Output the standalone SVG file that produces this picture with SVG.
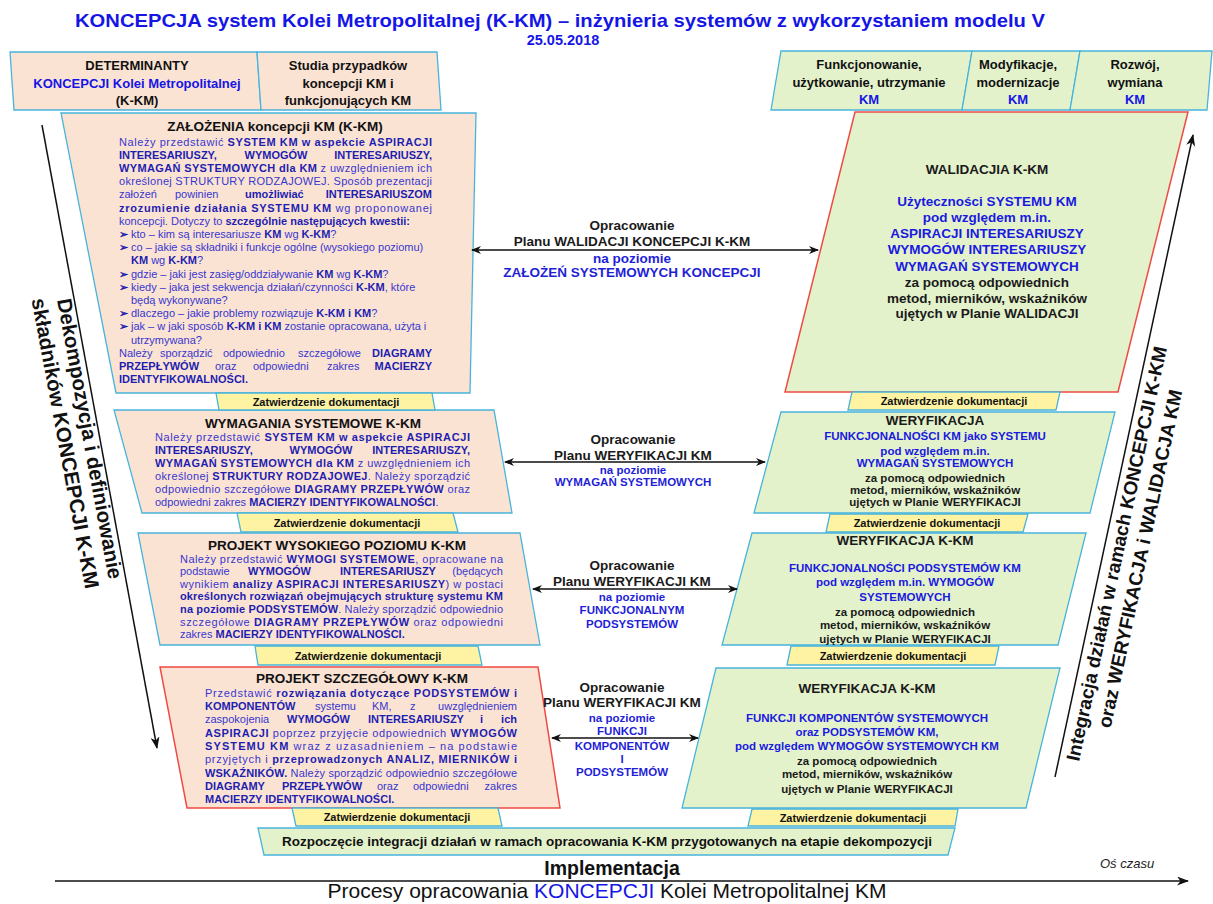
<svg xmlns="http://www.w3.org/2000/svg" width="1213" height="904" viewBox="0 0 1213 904">
<defs>
<style>
text{font-family:"Liberation Sans",Arial,sans-serif}
.bx{stroke:#47b4dc;stroke-width:1.3}
.red{stroke:#ef4a44;stroke-width:1.5}
.pe{fill:#fbe3d4}
.gr{fill:#e4f2cc}
.ye{fill:#fdf3a3}
.hd{font-size:13px;font-weight:bold;fill:#111;text-anchor:middle}
.hd.hb{fill:#1515e6}
.tt{font-size:13.5px;font-weight:bold;fill:#111;text-anchor:middle}
.bd{font-size:11px;fill:#3737cf}
.k{font-weight:bold;fill:#1e1eb0}
.rb{font-size:13.5px;font-weight:bold;text-anchor:middle;fill:#1a1a1a}
.rs{font-size:11.5px;font-weight:bold;text-anchor:middle;fill:#1a1a1a}
.rb.bl,.rs.bl{fill:#1a1ae0}
.zt{font-size:11px;font-weight:bold;fill:#111;text-anchor:middle}
.lb{font-size:13.5px;font-weight:bold;fill:#1a1a1a;text-anchor:middle}
.lb.bl{fill:#1f1fd8}
.ls{font-size:11.5px;font-weight:bold;fill:#1f1fd8;text-anchor:middle}
.ln{stroke:#111;stroke-width:1.5;fill:none}
.mid{text-anchor:middle}
.end{text-anchor:end}
</style>
<marker id="ah" viewBox="0 0 10 8" refX="9" refY="4" markerWidth="10" markerHeight="8" markerUnits="userSpaceOnUse" orient="auto-start-reverse"><path d="M0,0 L10,4 L0,8 L3,4 z" fill="#111"/></marker>
<marker id="ahL" viewBox="0 0 12 9" refX="11" refY="4.5" markerWidth="12" markerHeight="9" markerUnits="userSpaceOnUse" orient="auto"><path d="M0,0 L12,4.5 L0,9 L3.5,4.5 z" fill="#111"/></marker>
</defs>
<rect width="1213" height="904" fill="#fff"/>

<g id="title">
<text x="560" y="27" text-anchor="middle" font-size="19" font-weight="bold" fill="#1515e6" textLength="970" lengthAdjust="spacingAndGlyphs">KONCEPCJA system Kolei Metropolitalnej (K-KM) – inżynieria systemów z wykorzystaniem modelu V</text>
<text x="563" y="45" text-anchor="middle" font-size="14.5" font-weight="bold" fill="#1515e6">25.05.2018</text>
</g>

<g id="header-left">
<polygon class="bx pe" points="10,52 257,52 261,110 14,110"/>
<polygon class="bx pe" points="257,52 437,52 441,110 261,110"/>
<text class="hd" x="137" y="70">DETERMINANTY</text>
<text class="hd hb" x="137" y="88">KONCEPCJI Kolei Metropolitalnej</text>
<text class="hd" x="137" y="105">(K-KM)</text>
<text class="hd" x="348" y="70">Studia przypadków</text>
<text class="hd" x="348" y="88">koncepcji KM i</text>
<text class="hd" x="348" y="105">funkcjonujących KM</text>
</g>

<g id="header-right">
<polygon class="bx gr" points="781,51 972,51 962,110 771,110"/>
<polygon class="bx gr" points="972,51 1080,51 1070,110 962,110"/>
<polygon class="bx gr" points="1080,51 1212,51 1207,110 1070,110"/>
<text class="hd" x="869" y="69">Funkcjonowanie,</text>
<text class="hd" x="869" y="87">użytkowanie, utrzymanie</text>
<text class="hd hb" x="869" y="104">KM</text>
<text class="hd" x="1018" y="69">Modyfikacje,</text>
<text class="hd" x="1018" y="87">modernizacje</text>
<text class="hd hb" x="1018" y="104">KM</text>
<text class="hd" x="1135" y="69">Rozwój,</text>
<text class="hd" x="1135" y="87">wymiana</text>
<text class="hd hb" x="1135" y="104">KM</text>
</g>

<g id="zalozenia">
<polygon class="bx pe" points="61,113 476,113 470,393 116,393"/>
<text class="tt" x="275" y="131">ZAŁOŻENIA koncepcji KM (K-KM)</text>
<text class="bd" x="119" y="145.5" textLength="313" lengthAdjust="spacing">Należy przedstawić <tspan class="k">SYSTEM KM w aspekcie ASPIRACJI</tspan></text>
<text class="bd k" x="119" y="158.7">INTERESARIUSZY,</text>
<text class="bd k mid" x="276" y="158.7">WYMOGÓW</text>
<text class="bd k end" x="432" y="158.7">INTERESARIUSZY,</text>
<text class="bd" x="119" y="171.9" textLength="313" lengthAdjust="spacing"><tspan class="k">WYMAGAŃ SYSTEMOWYCH dla KM</tspan> z uwzględnieniem ich</text>
<text class="bd" x="119" y="185.1" textLength="313" lengthAdjust="spacing">określonej STRUKTURY RODZAJOWEJ. Sposób prezentacji</text>
<text class="bd" x="119" y="198.3">założeń</text>
<text class="bd" x="175" y="198.3">powinien</text>
<text class="bd k" x="245" y="198.3">umożliwiać</text>
<text class="bd k end" x="432" y="198.3">INTERESARIUSZOM</text>
<text class="bd" x="119" y="211.5" textLength="313" lengthAdjust="spacing"><tspan class="k">zrozumienie działania SYSTEMU KM</tspan> wg proponowanej</text>
<text class="bd" x="119" y="224.7">koncepcji. Dotyczy to <tspan class="k">szczególnie następujących kwestii:</tspan></text>
<text class="bd k" x="119" y="237.9" font-family="DejaVu Sans" font-size="9">➢</text>
<text class="bd" x="131" y="237.9">kto – kim są interesariusze <tspan class="k">KM</tspan> wg <tspan class="k">K-KM</tspan>?</text>
<text class="bd k" x="119" y="251.1" font-family="DejaVu Sans" font-size="9">➢</text>
<text class="bd" x="131" y="251.1">co – jakie są składniki i funkcje ogólne (wysokiego poziomu)</text>
<text class="bd" x="131" y="264.3"><tspan class="k">KM</tspan> wg <tspan class="k">K-KM</tspan>?</text>
<text class="bd k" x="119" y="277.5" font-family="DejaVu Sans" font-size="9">➢</text>
<text class="bd" x="131" y="277.5">gdzie – jaki jest zasięg/oddziaływanie <tspan class="k">KM</tspan> wg <tspan class="k">K-KM</tspan>?</text>
<text class="bd k" x="119" y="290.7" font-family="DejaVu Sans" font-size="9">➢</text>
<text class="bd" x="131" y="290.7">kiedy – jaka jest sekwencja działań/czynności <tspan class="k">K-KM</tspan>, które</text>
<text class="bd" x="131" y="303.9">będą wykonywane?</text>
<text class="bd k" x="119" y="317.1" font-family="DejaVu Sans" font-size="9">➢</text>
<text class="bd" x="131" y="317.1">dlaczego – jakie problemy rozwiązuje <tspan class="k">K-KM i KM</tspan>?</text>
<text class="bd k" x="119" y="330.3" font-family="DejaVu Sans" font-size="9">➢</text>
<text class="bd" x="131" y="330.3">jak – w jaki sposób <tspan class="k">K-KM i KM</tspan> zostanie opracowana, użyta i</text>
<text class="bd" x="131" y="343.5">utrzymywana?</text>
<text class="bd" x="119" y="356.7">Należy</text>
<text class="bd" x="160" y="356.7">sporządzić</text>
<text class="bd" x="223" y="356.7">odpowiednio</text>
<text class="bd" x="298" y="356.7">szczegółowe</text>
<text class="bd k end" x="432" y="356.7">DIAGRAMY</text>
<text class="bd k" x="119" y="369.9">PRZEPŁYWÓW</text>
<text class="bd" x="215" y="369.9">oraz</text>
<text class="bd" x="253" y="369.9">odpowiedni</text>
<text class="bd" x="327" y="369.9">zakres</text>
<text class="bd k end" x="432" y="369.9">MACIERZY</text>
<text class="bd k" x="119" y="383.1">IDENTYFIKOWALNOŚCI.</text>
</g>

<g id="wymagania">
<polygon class="bx pe" points="114,410 494,410 512,513 142,513"/>
<text class="tt" x="313" y="428">WYMAGANIA SYSTEMOWE K-KM</text>
<text class="bd" x="155" y="441" textLength="315" lengthAdjust="spacing">Należy przedstawić <tspan class="k">SYSTEM KM w aspekcie ASPIRACJI</tspan></text>
<text class="bd k" x="155" y="453.5">INTERESARIUSZY,</text>
<text class="bd k mid" x="321" y="453.5">WYMOGÓW</text>
<text class="bd k end" x="470" y="453.5">INTERESARIUSZY,</text>
<text class="bd" x="155" y="466.5" textLength="315" lengthAdjust="spacing"><tspan class="k">WYMAGAŃ SYSTEMOWYCH dla KM</tspan> z uwzględnieniem ich</text>
<text class="bd" x="155" y="480" textLength="315" lengthAdjust="spacing">określonej <tspan class="k">STRUKTURY RODZAJOWEJ</tspan>. Należy sporządzić</text>
<text class="bd" x="155" y="493.3" textLength="315" lengthAdjust="spacing">odpowiednio szczegółowe <tspan class="k">DIAGRAMY PRZEPŁYWÓW</tspan> oraz</text>
<text class="bd" x="155" y="505.7">odpowiedni zakres <tspan class="k">MACIERZY IDENTYFIKOWALNOŚCI</tspan>.</text>
</g>

<g id="projekt-wysokiego">
<polygon class="bx pe" points="138,533 520,533 540,645 160,645"/>
<text class="tt" x="337" y="550">PROJEKT WYSOKIEGO POZIOMU K-KM</text>
<text class="bd" x="180" y="562.5" textLength="323" lengthAdjust="spacing">Należy przedstawić <tspan class="k">WYMOGI SYSTEMOWE</tspan>, opracowane na</text>
<text class="bd" x="180" y="575">podstawie</text>
<text class="bd k" x="248" y="575">WYMOGÓW</text>
<text class="bd k" x="340" y="575">INTERESARIUSZY</text>
<text class="bd end" x="503" y="575">(będących</text>
<text class="bd" x="180" y="587.5" textLength="323" lengthAdjust="spacing">wynikiem <tspan class="k">analizy ASPIRACJI INTERESARIUSZY</tspan>) w postaci</text>
<text class="bd k" x="180" y="600" textLength="323" lengthAdjust="spacing">określonych rozwiązań obejmujących strukturę systemu KM</text>
<text class="bd" x="180" y="612.5" textLength="323" lengthAdjust="spacing"><tspan class="k">na poziomie PODSYSTEMÓW</tspan>. Należy sporządzić odpowiednio</text>
<text class="bd" x="180" y="625.5" textLength="323" lengthAdjust="spacing">szczegółowe <tspan class="k">DIAGRAMY PRZEPŁYWÓW</tspan> oraz odpowiedni</text>
<text class="bd" x="180" y="638">zakres <tspan class="k">MACIERZY IDENTYFIKOWALNOŚCI.</tspan></text>
</g>

<g id="projekt-szczegolowy">
<polygon class="red pe" points="160,667 538,667 560,808 187,808"/>
<text class="tt" x="362" y="682.5">PROJEKT SZCZEGÓŁOWY K-KM</text>
<text class="bd" x="205" y="696.5" textLength="312" lengthAdjust="spacing">Przedstawić <tspan class="k">rozwiązania dotyczące PODSYSTEMÓW i</tspan></text>
<text class="bd k" x="205" y="710">KOMPONENTÓW</text>
<text class="bd" x="315" y="710">systemu</text>
<text class="bd" x="372" y="710">KM,</text>
<text class="bd" x="410" y="710">z</text>
<text class="bd end" x="517" y="710">uwzględnieniem</text>
<text class="bd" x="205" y="723">zaspokojenia</text>
<text class="bd k" x="287" y="723">WYMOGÓW</text>
<text class="bd k" x="368" y="723">INTERESARIUSZY</text>
<text class="bd k" x="480" y="723">i</text>
<text class="bd k end" x="517" y="723">ich</text>
<text class="bd" x="205" y="736.5" textLength="312" lengthAdjust="spacing"><tspan class="k">ASPIRACJI</tspan> poprzez przyjęcie odpowiednich <tspan class="k">WYMOGÓW</tspan></text>
<text class="bd" x="205" y="749.5" textLength="312" lengthAdjust="spacing"><tspan class="k">SYSTEMU KM</tspan> wraz z uzasadnieniem – na podstawie</text>
<text class="bd" x="205" y="763" textLength="312" lengthAdjust="spacing">przyjętych i <tspan class="k">przeprowadzonych ANALIZ, MIERNIKÓW i</tspan></text>
<text class="bd" x="205" y="776.5" textLength="312" lengthAdjust="spacing"><tspan class="k">WSKAŹNIKÓW.</tspan> Należy sporządzić odpowiednio szczegółowe</text>
<text class="bd k" x="205" y="789.5">DIAGRAMY</text>
<text class="bd k" x="282" y="789.5">PRZEPŁYWÓW</text>
<text class="bd" x="377" y="789.5">oraz</text>
<text class="bd" x="413" y="789.5">odpowiedni</text>
<text class="bd end" x="517" y="789.5">zakres</text>
<text class="bd k" x="205" y="803">MACIERZY IDENTYFIKOWALNOŚCI.</text>
</g>

<g id="walidacja">
<polygon class="red gr" points="855,112 1188,112 1118,392 785,392"/>
<text class="rb" x="987" y="174">WALIDACJIA K-KM</text>
<text class="rb bl" x="987" y="206">Użyteczności SYSTEMU KM</text>
<text class="rb bl" x="987" y="222">pod względem m.in.</text>
<text class="rb bl" x="987" y="238">ASPIRACJI INTERESARIUSZY</text>
<text class="rb bl" x="987" y="254">WYMOGÓW INTERESARIUSZY</text>
<text class="rb bl" x="987" y="271">WYMAGAŃ SYSTEMOWYCH</text>
<text class="rb" x="987" y="287">za pomocą odpowiednich</text>
<text class="rb" x="987" y="303">metod, mierników, wskaźników</text>
<text class="rb" x="987" y="318">ujętych w Planie WALIDACJI</text>
</g>

<g id="weryfikacja-1">
<polygon class="bx gr" points="781,412 1115,412 1090,513 754,513"/>
<text class="rb" x="935" y="425">WERYFIKACJA</text>
<text class="rs bl" x="935" y="440">FUNKCJONALNOŚCI KM jako SYSTEMU</text>
<text class="rs bl" x="935" y="455">pod względem m.in.</text>
<text class="rs bl" x="935" y="467">WYMAGAŃ SYSTEMOWYCH</text>
<text class="rs" x="935" y="482">za pomocą odpowiednich</text>
<text class="rs" x="935" y="494">metod, mierników, wskaźników</text>
<text class="rs" x="935" y="506">ujętych w Planie WERYFIKACJI</text>
</g>

<g id="weryfikacja-2">
<polygon class="bx gr" points="752,533 1086,533 1058,645 722,645"/>
<text class="rb" x="905" y="545">WERYFIKACJA K-KM</text>
<text class="rs bl" x="905" y="572">FUNKCJONALNOŚCI PODSYSTEMÓW KM</text>
<text class="rs bl" x="905" y="586">pod względem m.in. WYMOGÓW</text>
<text class="rs bl" x="905" y="601">SYSTEMOWYCH</text>
<text class="rs" x="905" y="616">za pomocą odpowiednich</text>
<text class="rs" x="905" y="629">metod, mierników, wskaźników</text>
<text class="rs" x="905" y="643">ujętych w Planie WERYFIKACJI</text>
</g>

<g id="weryfikacja-3">
<polygon class="bx gr" points="716,668 1060,668 1026,808 682,808"/>
<text class="rb" x="867" y="693">WERYFIKACJA K-KM</text>
<text class="rs bl" x="867" y="722">FUNKCJI KOMPONENTÓW SYSTEMOWYCH</text>
<text class="rs bl" x="867" y="736">oraz PODSYSTEMÓW KM,</text>
<text class="rs bl" x="867" y="750">pod względem WYMOGÓW SYSTEMOWYCH KM</text>
<text class="rs" x="867" y="765">za pomocą odpowiednich</text>
<text class="rs" x="867" y="778">metod, mierników, wskaźników</text>
<text class="rs" x="867" y="793">ujętych w Planie WERYFIKACJI</text>
</g>

<g id="zatwierdzenie">
<polygon class="bx ye" points="216,393 432,393 435,410 219,410"/>
<text class="zt" x="326" y="405.5">Zatwierdzenie dokumentacji</text>
<polygon class="bx ye" points="237,513 453,513 458,532 241,532"/>
<text class="zt" x="347" y="526.5">Zatwierdzenie dokumentacji</text>
<polygon class="bx ye" points="255,646 478,646 482,665 258,665"/>
<text class="zt" x="368" y="659.5">Zatwierdzenie dokumentacji</text>
<polygon class="bx ye" points="292,808 498,808 502,826 296,826"/>
<text class="zt" x="397" y="821">Zatwierdzenie dokumentacji</text>
<polygon class="bx ye" points="852,392 1060,392 1056,410 848,410"/>
<text class="zt" x="954" y="405">Zatwierdzenie dokumentacji</text>
<polygon class="bx ye" points="830,514 1028,514 1023,532 826,532"/>
<text class="zt" x="927" y="527">Zatwierdzenie dokumentacji</text>
<polygon class="bx ye" points="791,646 999,646 995,665 787,665"/>
<text class="zt" x="893" y="659.5">Zatwierdzenie dokumentacji</text>
<polygon class="bx ye" points="752,809 958,809 955,826 748,826"/>
<text class="zt" x="853" y="821.5">Zatwierdzenie dokumentacji</text>
</g>

<g id="integracja-start">
<polygon class="bx gr" points="258,828 955,828 948,855 264,855"/>
<text x="607" y="846" text-anchor="middle" font-size="12" font-weight="bold" fill="#111" textLength="650" lengthAdjust="spacingAndGlyphs">Rozpoczęcie integracji działań w ramach opracowania K-KM przygotowanych na etapie dekompozycji</text>
</g>

<g id="connectors">
<line class="ln" x1="472" y1="250" x2="818" y2="250" marker-start="url(#ah)" marker-end="url(#ah)"/>
<line class="ln" x1="505" y1="462" x2="765" y2="462" marker-start="url(#ah)" marker-end="url(#ah)"/>
<line class="ln" x1="533" y1="589" x2="737" y2="589" marker-start="url(#ah)" marker-end="url(#ah)"/>
<line class="ln" x1="552" y1="738" x2="698" y2="738" marker-start="url(#ah)" marker-end="url(#ah)"/>
<line class="ln" x1="42" y1="125" x2="157" y2="748" marker-end="url(#ahL)"/>
<line class="ln" x1="1055" y1="777" x2="1193" y2="135" marker-end="url(#ahL)"/>
<line class="ln" x1="55" y1="881" x2="1188" y2="881" marker-end="url(#ahL)"/>
</g>

<g id="labels">
<text class="lb" x="632" y="230">Opracowanie</text>
<text class="lb" x="632" y="246">Planu WALIDACJI KONCEPCJI K-KM</text>
<text class="lb bl" x="632" y="263">na poziomie</text>
<text class="lb bl" x="632" y="277">ZAŁOŻEŃ SYSTEMOWYCH KONCEPCJI</text>
<text class="lb" x="633" y="444">Opracowanie</text>
<text class="lb" x="633" y="459.5">Planu WERYFIKACJI KM</text>
<text class="ls" x="633" y="474">na poziomie</text>
<text class="ls" x="633" y="486">WYMAGAŃ SYSTEMOWYCH</text>
<text class="lb" x="632" y="570">Opracowanie</text>
<text class="lb" x="632" y="586">Planu WERYFIKACJI KM</text>
<text class="ls" x="632" y="601">na poziomie</text>
<text class="ls" x="632" y="614">FUNKCJONALNYM</text>
<text class="ls" x="632" y="628">PODSYSTEMÓW</text>
<text class="lb" x="622" y="692">Opracowanie</text>
<text class="lb" x="622" y="707">Planu WERYFIKACJI KM</text>
<text class="ls" x="622" y="722">na poziomie</text>
<text class="ls" x="622" y="735">FUNKCJI</text>
<text class="ls" x="622" y="750">KOMPONENTÓW</text>
<text class="ls" x="622" y="763">I</text>
<text class="ls" x="622" y="776">PODSYSTEMÓW</text>
</g>

<g id="axis-texts">
<g transform="translate(83,440) rotate(79.5)">
<text x="0" y="0" text-anchor="middle" font-size="20.5" font-weight="bold" fill="#111">Dekompozycja i definiowanie</text>
<text x="0" y="25" text-anchor="middle" font-size="20.5" font-weight="bold" fill="#111">składników KONCEPCJI K-KM</text>
</g>
<g transform="translate(1123,555) rotate(-78)">
<text x="0" y="0" text-anchor="middle" font-size="19" font-weight="bold" fill="#111">Integracja działań w ramach KONCEPCJI K-KM</text>
<text x="0" y="24" text-anchor="middle" font-size="19" font-weight="bold" fill="#111">oraz WERYFIKACJA i WALIDACJA KM</text>
</g>
<text x="612" y="875" text-anchor="middle" font-size="19.5" font-weight="bold" fill="#111">Implementacja</text>
<text x="1100" y="868" font-size="13" font-style="italic" fill="#222">Oś czasu</text>
<text x="607" y="898" text-anchor="middle" font-size="21" fill="#111">Procesy opracowania <tspan fill="#1515e6">KONCEPCJI</tspan> Kolei Metropolitalnej KM</text>
</g>
</svg>
